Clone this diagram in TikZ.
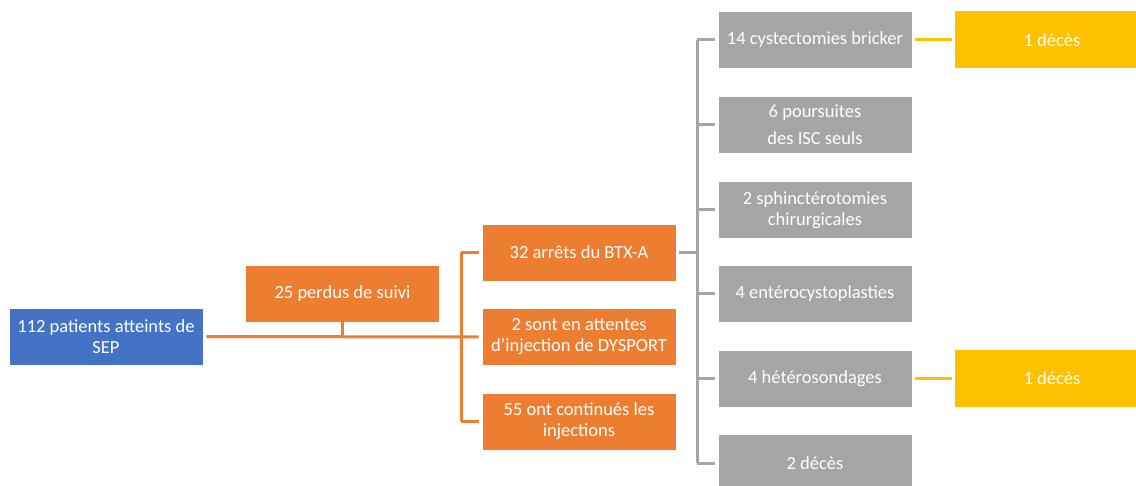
\documentclass[tikz,border=0pt]{standalone}
\usepackage{fontspec}
\setmainfont{Carlito}
\definecolor{cblue}{HTML}{4472C4}
\definecolor{corange}{HTML}{ED7D31}
\definecolor{cgray}{HTML}{A5A5A5}
\definecolor{cyellow}{HTML}{FFC000}
\tikzset{
  box/.style={rectangle, inner sep=0pt, minimum width=194pt, minimum height=57pt,
    text=white, align=center, font=\fontsize{18.5}{21}\selectfont, draw=white, line width=0.6pt},
  bluebox/.style={box, fill=cblue},
  orbox/.style={box, fill=corange},
  grbox/.style={box, fill=cgray},
  yebox/.style={box, fill=cyellow, draw=none},
  orline/.style={draw=corange, line width=3pt},
  grline/.style={draw=cgray, line width=3pt},
  yeline/.style={draw=cyellow, line width=3pt},
}
\begin{document}
\begin{tikzpicture}[x=1pt,y=-1pt]
\useasboundingbox (0,0) rectangle (1136,486);
\clip (0,0) rectangle (1136,486);
\fill[white] (0,0) rectangle (1136,486);

\node[bluebox] (sep) at (106,336.5) {112 patients atteints de\\SEP};
\node[orbox] (perdus) at (342.5,294) {25 perdus de suivi};
\node[orbox] (btx) at (579,252.5) {32 arrêts du BTX-A};
\node[orbox] (dys) at (579,337) {2 sont en attentes\\d\char"0027 injection de DYSPORT};
\node[orbox] (cont) at (579,421.5) {55 ont continués les\\injections};

\node[grbox] (g1) at (815,40) {14 cystectomies bricker};
\node[grbox, font=\fontsize{18.5}{27}\selectfont] (g2) at (815,125) {6 poursuites\\des ISC seuls};
\node[grbox] (g3) at (815,210) {2 sphinctérotomies\\chirurgicales};
\node[grbox] (g4) at (815,294) {4 entérocystoplasties};
\node[grbox] (g5) at (815,378.5) {4 hétérosondages};
\node[grbox] (g6) at (815,463) {2 décès};

\node[yebox] (y1) at (1052,40) {1 décès};
\node[yebox] (y2) at (1052,378.5) {1 décès};

% orange connectors
\coordinate (ov) at (461,0);
\draw[orline] ([xshift=3pt]sep.east) -- ([xshift=-3pt]dys.west);
\draw[orline] ([yshift=3pt]perdus.south) -- (perdus.south |- sep.east);
\draw[orline] (ov |- btx.west) -- (ov |- cont.west);
\draw[orline] (ov |- btx.west) -- ([xshift=-3pt]btx.west);
\draw[orline] (ov |- cont.west) -- ([xshift=-3pt]cont.west);

% gray connectors
\coordinate (gv) at (697,0);
\draw[grline] ([xshift=3pt]btx.east) -- (gv |- btx.east);
\draw[grline] (gv |- g1.west) -- (gv |- g6.west);
\foreach \g in {g1,g2,g3,g4,g5,g6}{
  \draw[grline] (gv |- \g.west) -- ([xshift=-3pt]\g.west);
}

% yellow connectors
\draw[yeline] ([xshift=3pt]g1.east) -- ([xshift=-3pt]y1.west);
\draw[yeline] ([xshift=3pt]g5.east) -- ([xshift=-3pt]y2.west);
\end{tikzpicture}
\end{document}
